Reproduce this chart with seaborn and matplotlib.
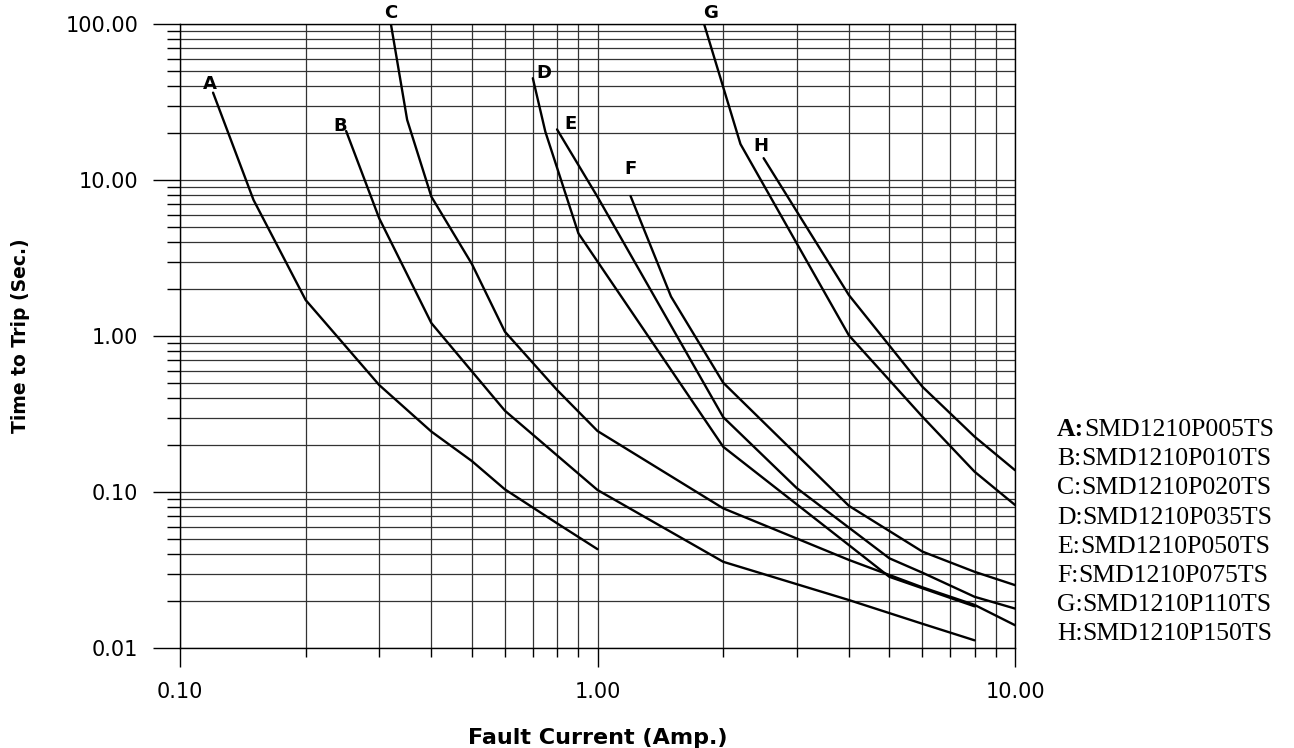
import numpy as np
import pandas as pd
import matplotlib
matplotlib.use('Agg')
import matplotlib.pyplot as plt
import matplotlib.ticker as mticker
import seaborn as sns

# trip curves: fault current (A) vs time to trip (s)
a_amps = [0.12, 0.15, 0.2, 0.3, 0.4, 0.5, 0.6, 0.8, 1.0]
a_secs = [36.3, 7.45, 1.70, 0.485, 0.244, 0.158, 0.104, 0.063, 0.043]

b_amps = [0.25, 0.3, 0.4, 0.6, 1.0, 2.0, 4.0, 6.0, 8.0]
b_secs = [20.6, 5.68, 1.21, 0.332, 0.103, 0.0357, 0.0203, 0.0143, 0.0112]

c_amps = [0.32, 0.35, 0.4, 0.5, 0.6, 0.8, 1.0, 2.0, 4.0, 6.0, 8.0, 10.0]
c_secs = [100.0, 24.3, 7.82, 2.9, 1.066, 0.451, 0.246, 0.0786, 0.0367, 0.0245, 0.0189, 0.0140]

d_amps = [0.7, 0.75, 0.9, 2.0, 4.0, 5.0, 8.0]
d_secs = [44.9, 20.4, 4.55, 0.195, 0.0457, 0.0286, 0.0185]

e_amps = [0.8, 1.0, 2.0, 3.0, 5.0, 6.0, 8.0, 10.0]
e_secs = [21.1, 7.8, 0.302, 0.106, 0.0376, 0.0304, 0.0213, 0.0179]

f_amps = [1.2, 1.5, 2.0, 4.0, 6.0, 8.0, 10.0]
f_secs = [7.89, 1.79, 0.502, 0.0816, 0.0415, 0.0308, 0.0253]

g_amps = [1.8, 2.2, 4.0, 6.0, 8.0, 10.0]
g_secs = [100.0, 17.0, 1.01, 0.304, 0.135, 0.0826]

h_amps = [2.5, 4.0, 6.0, 8.0, 10.0]
h_secs = [13.8, 1.83, 0.473, 0.2265, 0.138]

curve_names = ['A', 'B', 'C', 'D', 'E', 'F', 'G', 'H']
part_numbers = ['SMD1210P005TS', 'SMD1210P010TS', 'SMD1210P020TS', 'SMD1210P035TS',
                'SMD1210P050TS', 'SMD1210P075TS', 'SMD1210P110TS', 'SMD1210P150TS']
amps_list = [a_amps, b_amps, c_amps, d_amps, e_amps, f_amps, g_amps, h_amps]
secs_list = [a_secs, b_secs, c_secs, d_secs, e_secs, f_secs, g_secs, h_secs]

# where each curve letter sits relative to the curve's first point (points)
label_offsets = [(-2, 6.5), (-4.3, 3.6), (0, 8), (8, 3.6), (9.4, 3.6), (0, 19.4), (5, 8), (-2, 8.6)]

frames = []
for name, amps, secs in zip(curve_names, amps_list, secs_list):
    frames.append(pd.DataFrame({'curve': name, 'amps': amps, 'secs': secs}))
df = pd.concat(frames, ignore_index=True)

sns.set_style('white')
plt.rcParams['font.family'] = ['DejaVu Sans']
plt.rcParams['text.color'] = 'black'
plt.rcParams['axes.labelcolor'] = 'black'
plt.rcParams['xtick.color'] = 'black'
plt.rcParams['ytick.color'] = 'black'

W, H = 1294, 748
fig = plt.figure(figsize=(W / 100, H / 100), dpi=100)
ax = fig.add_axes([180 / W, 100 / H, 835 / W, 624 / H])

sns.lineplot(data=df, x='amps', y='secs', units='curve', estimator=None, sort=False,
             color='black', lw=1.7, ax=ax)

ax.set_xscale('log')
ax.set_yscale('log')
ax.set_xlim(0.1, 10)
ax.set_ylim(0.01, 100)

ax.xaxis.set_major_locator(mticker.FixedLocator([0.1, 1, 10]))
ax.xaxis.set_major_formatter(mticker.FormatStrFormatter('%.2f'))
ax.xaxis.set_minor_locator(mticker.LogLocator(base=10, subs=np.arange(2, 10)))
ax.xaxis.set_minor_formatter(mticker.NullFormatter())
ax.yaxis.set_major_locator(mticker.FixedLocator([0.01, 0.1, 1, 10, 100]))
ax.yaxis.set_major_formatter(mticker.FormatStrFormatter('%.2f'))
ax.yaxis.set_minor_locator(mticker.LogLocator(base=10, subs=np.arange(2, 10)))
ax.yaxis.set_minor_formatter(mticker.NullFormatter())

ax.grid(which='both', color='#333333', lw=0.9)
ax.set_axisbelow(True)
for sp in ax.spines.values():
    sp.set_color('black')
    sp.set_linewidth(1.0)

ax.tick_params(axis='x', which='major', direction='out', length=13.7, width=1, color='black',
               pad=11, labelsize=15, bottom=True)
ax.tick_params(axis='x', which='minor', direction='out', length=6.5, width=1, color='black', bottom=True)
ax.tick_params(axis='y', which='major', direction='out', length=19.4, width=1, color='black',
               pad=10.5, labelsize=15, left=True)
ax.tick_params(axis='y', which='minor', direction='out', length=9.4, width=1, color='black', left=True)

ax.set_xlabel('Fault Current (Amp.)', fontsize=16, fontweight='bold', va='center')
ax.xaxis.set_label_coords(0.5, (648 - 738) / 624)
ax.set_ylabel('Time to Trip (Sec.)', fontsize=13.5, fontweight='bold', va='center')
ax.yaxis.set_label_coords((21 - 180) / 835, 0.5)

# curve letters
for name, amps, secs, off in zip(curve_names, amps_list, secs_list, label_offsets):
    ax.annotate(name, xy=(amps[0], secs[0]), xytext=off, textcoords='offset points',
                ha='center', va='center', fontsize=13, fontweight='bold', color='black')

# part number key on the right
serif = ['Liberation Serif', 'DejaVu Serif']
for i, (name, part) in enumerate(zip(curve_names, part_numbers)):
    y = 1 - (430 + 29.2 * i) / H
    lead = fig.text(1057 / W, y, name + ':', family=serif, fontsize=18.5, va='center',
                    fontweight='bold' if i == 0 else 'normal', color='black')
    ax.annotate(part, xy=(1, 0.5), xycoords=lead, va='center', ha='left', color='black',
                family=serif, fontsize=18.5, annotation_clip=False)

fig.savefig('out.png', dpi=100)
